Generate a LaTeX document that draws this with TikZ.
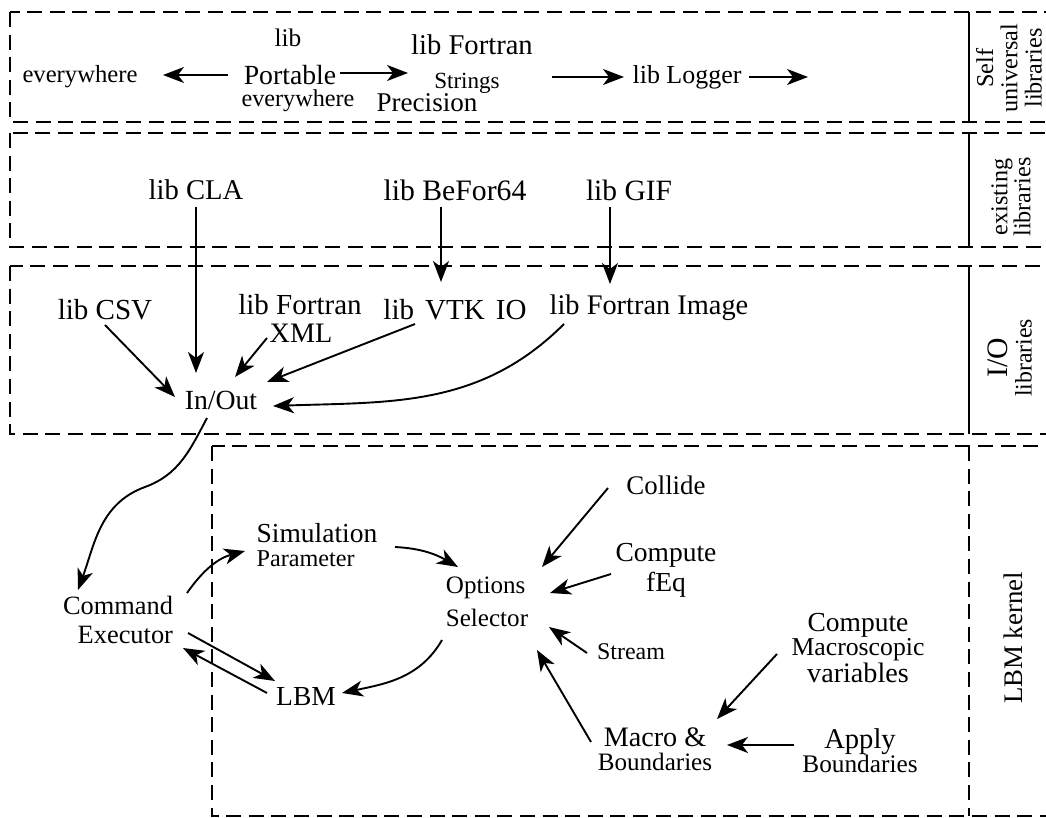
\documentclass[tikz,border=0pt]{standalone}
\usepackage{fontspec}
\setmainfont{Liberation Serif}
\usetikzlibrary{arrows.meta,calc}
\newcommand\fsz[2]{\fontsize{\fpeval{#1*1.1}}{\fpeval{#2*1.1}}\selectfont}
\begin{document}
\begin{tikzpicture}[x=0.5pt,y=0.5pt,
  box/.style={draw, line width=1pt, dash pattern=on 7.5pt off 3.8pt},
  sep/.style={draw, line width=1pt},
  arr/.style={-{Stealth[length=10.5pt,width=8pt,inset=3pt]}, line width=0.95pt},
  t/.style={inner sep=0pt, outer sep=0pt, align=center},
  vl/.style={t, rotate=90}
]
\useasboundingbox (0,0) rectangle (1046,-818);
\clip (0,0) rectangle (1046,-818);

% frames
\draw[box] (10,-12) rectangle (1080,-122);
\draw[box] (10,-133) rectangle (1080,-247);
\draw[box] (10,-266) rectangle (1080,-434);
\draw[box] (212,-446) rectangle (1080,-816);
\draw[sep] (969,-12) -- (969,-122);
\draw[sep] (969,-133) -- (969,-247);
\draw[sep] (969,-266) -- (969,-434);
\draw[box] (969,-446) -- (969,-816);

% column labels
\node[vl, font=\fsz{11}{11}] (l1) at (1009,-68) {Self\\universal\\libraries};
\node[vl, font=\fsz{11}{10.5}] (l2) at (1011,-197) {existing\\libraries};
\node[vl] (l3) at (1010,-358) {\fsz{13.5}{14}I/O\\\fsz{10.8}{14}libraries};
\node[vl, font=\fsz{12.2}{14}] (l4) at (1013,-638) {LBM kernel};

% self universal libraries
\node[t, font=\fsz{11.2}{13}] (ev1) at (80,-77) {everywhere};
\node[t, font=\fsz{11.5}{13}] (lib0) at (288,-38) {lib};
\node[t, font=\fsz{12.6}{14}] (port) at (290,-75) {Portable};
\node[t, font=\fsz{11}{13}] (ev2) at (298,-101) {everywhere};
\node[t, font=\fsz{13}{14}] (fort1) at (472,-45) {lib Fortran};
\node[t, font=\fsz{10.5}{12}] (strings) at (467,-83) {Strings};
\node[t, font=\fsz{12.3}{14}] (prec) at (427,-103) {Precision};
\node[t, font=\fsz{11.8}{13}] (logger) at (687,-77) {lib Logger};
\coordinate (a2) at (408,-73);
\coordinate (a3) at (552,-77);
\coordinate (a4) at (808,-77);

% existing libraries
\node[t, font=\fsz{13}{14}] (cla) at (196,-190) {lib CLA};
\node[t, font=\fsz{13.5}{14}] (befor) at (455,-190) {lib BeFor64};
\node[t, font=\fsz{13.4}{14}] (gif) at (629,-190) {lib GIF};

% I/O libraries
\node[t, font=\fsz{13.2}{14}] (csv) at (105,-310) {lib CSV};
\node[t, font=\fsz{13.2}{14}] (fort2) at (300,-305) {lib Fortran};
\node[t, font=\fsz{12.8}{14}] (xml) at (301,-333) {XML};
\node[t, font=\fsz{13.2}{14}] (vtk) at (455,-310) {lib\hspace{0.38em}VTK\hspace{0.38em}IO};
\node[t, font=\fsz{12.9}{14}] (fimg) at (649,-308) {lib Fortran Image};
\node[t, font=\fsz{12.6}{13}] (io) at (221,-400) {In/Out};

% LBM kernel
\node[t, align=right, font=\fsz{12}{13.5}] (cmd) at (118,-620) {Command\\Executor};
\node[t, align=left] (sim) at (317,-545) {\fsz{12.5}{13}Simulation\\\fsz{11}{13}Parameter};
\node[t, align=left, font=\fsz{11.4}{15}] (opt) at (487,-602) {Options\\Selector};
\node[t, font=\fsz{12.5}{14}] (lbm) at (306,-697) {LBM};
\node[t, font=\fsz{12.2}{14}] (collide) at (666,-485) {Collide};
\node[t, font=\fsz{12.5}{13.5}] (cfeq) at (666,-570) {Compute\\fEq};
\node[t, font=\fsz{10.9}{13}] (stream) at (631,-652) {Stream};
\node[t] (macro) at (655,-749) {\fsz{12.8}{14}Macro \&\\\fsz{11.4}{14}Boundaries};
\node[t] (cmv) at (858,-648) {\fsz{12.5}{12.5}Compute\\\fsz{11.7}{12.5}Macroscopic\\\fsz{12.8}{12.5}variables};
\node[t] (apply) at (860,-751) {\fsz{13}{13.5}Apply\\\fsz{11.5}{13.5}Boundaries};

% arrows: top
\draw[arr] ($(port)+(-62,0)$) -- ($(ev1)+(83,2)$);
\draw[arr] ($(port)+(50,2)$) -- (a2);
\draw[arr] (a3) -- ($(logger)+(-63,0)$);
\draw[arr] ($(logger)+(62,0)$) -- (a4);

% arrows: libraries
\draw[arr] ($(cla)+(0,-17)$) -- ($(io)+(-25,27)$);
\draw[arr] ($(befor)+(-14,-17)$) -- ($(vtk)+(-14,28)$);
\draw[arr] ($(gif)+(-19,-17)$) -- ($(fimg)+(-39,24)$);
\draw[arr] ($(csv)+(0,-15)$) -- ($(io)+(-46,3)$);
\draw[arr] ($(xml)+(-34,-5)$) -- ($(io)+(14,23)$);
\draw[arr] ($(vtk)+(-40,-14)$) -- ($(io)+(46,18)$);
\draw[arr] ($(fimg)+(-85,-16)$) to[out=225,in=2] ($(io)+(52,-6)$);

% arrows: kernel
\draw[arr] ($(io)+(-14,-18)$) to[out=-118,in=20] (145,-487) to[out=200,in=70] ($(cmd)+(-40,30)$);
\draw[arr] ($(cmd)+(69,27)$) to[out=55,in=195] ($(sim)+(-72,-6)$);
\draw[arr] ($(sim)+(78,-2)$) to[out=-3,in=150] ($(opt)+(-29,35)$);
\draw[arr] ($(opt)+(-45,-38)$) to[out=-120,in=12] ($(lbm)+(36,4)$);
\draw[arr] ($(cmd)+(70,-13)$) -- ($(lbm)+(-31,16)$);
\draw[arr] ($(lbm)+(-39,4)$) -- ($(cmd)+(65,-28)$);
\draw[arr] ($(collide)+(-58,-3)$) -- ($(opt)+(55,35)$);
\draw[arr] ($(cfeq)+(-55,-4)$) -- ($(opt)+(63,9)$);
\draw[arr] ($(stream)+(-44,-1)$) -- ($(opt)+(62,-25)$);
\draw[arr] ($(macro)+(-64,7)$) -- ($(opt)+(50,-48)$);
\draw[arr] ($(cmv)+(-81,-6)$) -- ($(macro)+(62,30)$);
\draw[arr] ($(apply)+(-66,6)$) -- ($(macro)+(72,4)$);
\end{tikzpicture}
\end{document}
